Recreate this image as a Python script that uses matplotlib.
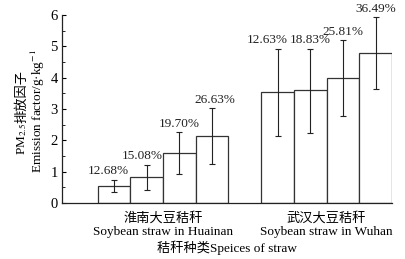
import numpy as np
import matplotlib.pyplot as plt

plt.rcParams['font.family'] = ['Liberation Serif', 'Noto Sans CJK SC', 'DejaVu Sans']
plt.rcParams['mathtext.fontset'] = 'stix'

# data
groups = ['淮南大豆秸秆\nSoybean straw in Huainan', '武汉大豆秸秆\nSoybean straw in Wuhan']
huainan_vals = [0.56, 0.83, 1.59, 2.15]
huainan_err_lo = [0.35, 0.43, 0.92, 1.26]
huainan_err_hi = [0.75, 1.23, 2.27, 3.03]
huainan_pct = ['12.68%', '15.08%', '19.70%', '26.63%']
wuhan_vals = [3.53, 3.60, 3.98, 4.80]
wuhan_err_lo = [2.14, 2.25, 2.78, 3.63]
wuhan_err_hi = [4.93, 4.93, 5.19, 5.95]
wuhan_pct = ['12.63%', '18.83%', '25.81%', '36.49%']

vals = np.array(huainan_vals + wuhan_vals)
lo = np.array(huainan_err_lo + wuhan_err_lo)
hi = np.array(huainan_err_hi + wuhan_err_hi)
pct = huainan_pct + wuhan_pct
x = np.array([0, 1, 2, 3, 5, 6, 7, 8])
nudge = [-0.18, -0.14, 0.0, 0.08, -0.3, 0.0, 0.0, 0.0]

fig = plt.figure(figsize=(4.05, 2.59), dpi=100)
ax = fig.add_axes([0.153, 0.216, 0.815, 0.726])

ax.bar(x, vals, width=1.0, color='white', edgecolor='#333333', linewidth=0.9)
ax.errorbar(x, vals, yerr=[vals - lo, hi - vals], fmt='none', ecolor='#222222',
            elinewidth=0.8, capsize=2.3, capthick=0.8)
for xi, h, t, dx in zip(x, hi, pct, nudge):
    ax.annotate(t, (xi + dx, h), xytext=(0, 1.5), textcoords='offset points',
                ha='center', va='bottom', fontsize=9.5, color='#222222')

ax.set_xlim(-1.59, 8.5)
ax.set_ylim(0, 6)
ax.set_yticks(range(7))
ax.set_yticks(np.arange(0.5, 6, 1), minor=True)
ax.tick_params(axis='y', which='major', direction='in', length=3, labelsize=10.5, pad=3)
ax.tick_params(axis='y', which='minor', direction='in', length=2)
ax.set_xticks([1.5, 6.5])
ax.set_xticklabels(groups, fontsize=9.5, linespacing=1.2)
ax.tick_params(axis='x', length=0, pad=6)
for s in ['top', 'right']:
    ax.spines[s].set_visible(False)
for s in ['left', 'bottom']:
    ax.spines[s].set_linewidth(0.9)
    ax.spines[s].set_color('#222222')

ax.set_xlabel('秸秆种类Speices of straw', fontsize=9.5, labelpad=2)

# two-line y label
fig.text(0.054, 0.525, 'PM$_{2.5}$', rotation=90, ha='center', va='top', fontsize=9.5)
fig.text(0.054, 0.525, '排放因子', rotation=90, ha='center', va='bottom', fontsize=9.5)
fig.text(0.094, 0.571, 'Emission factor/g·kg$^{-1}$', rotation=90, ha='center', va='center',
         fontsize=9.5)

fig.savefig('out.png', dpi=100)
